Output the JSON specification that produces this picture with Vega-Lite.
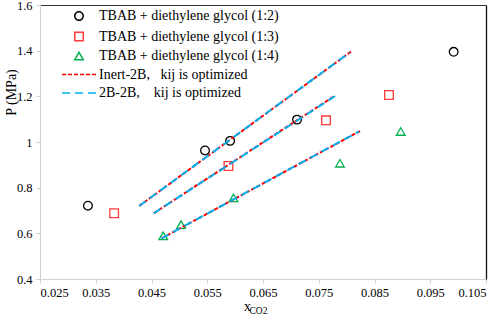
{
  "$schema": "https://vega.github.io/schema/vega-lite/v6.json",
  "width": 446,
  "height": 274,
  "autosize": {"type": "none"},
  "padding": {"left": 40, "top": 5, "right": 12, "bottom": 39},
  "background": "white",
  "config": {
    "font": "Liberation Serif",
    "view": {"stroke": null},
    "axis": {"grid": false, "domainColor": "#d0d0d0", "tickColor": "#d0d0d0", "tickSize": 4, "labelColor": "#000", "labelFontSize": 12.5, "labelFont": "Liberation Serif", "titleFont": "Liberation Serif", "titleFontWeight": "normal", "titleColor": "#000"},
    "legend": {"labelFont": "Liberation Serif", "labelFontSize": 14, "labelColor": "#000", "labelLimit": 0}
  },
  "layer": [
    {
      "data": {"values": [
        {"series": "TBAB + diethylene glycol (1:2)", "x": 0.0336, "p": 0.721},
        {"series": "TBAB + diethylene glycol (1:2)", "x": 0.0546, "p": 0.963},
        {"series": "TBAB + diethylene glycol (1:2)", "x": 0.0591, "p": 1.005},
        {"series": "TBAB + diethylene glycol (1:2)", "x": 0.0711, "p": 1.098},
        {"series": "TBAB + diethylene glycol (1:2)", "x": 0.0992, "p": 1.395},
        {"series": "TBAB + diethylene glycol (1:3)", "x": 0.0383, "p": 0.688},
        {"series": "TBAB + diethylene glycol (1:3)", "x": 0.0588, "p": 0.895},
        {"series": "TBAB + diethylene glycol (1:3)", "x": 0.0763, "p": 1.095},
        {"series": "TBAB + diethylene glycol (1:3)", "x": 0.0876, "p": 1.206},
        {"series": "TBAB + diethylene glycol (1:4)", "x": 0.0471, "p": 0.589},
        {"series": "TBAB + diethylene glycol (1:4)", "x": 0.0503, "p": 0.638},
        {"series": "TBAB + diethylene glycol (1:4)", "x": 0.0597, "p": 0.755},
        {"series": "TBAB + diethylene glycol (1:4)", "x": 0.0788, "p": 0.907},
        {"series": "TBAB + diethylene glycol (1:4)", "x": 0.0897, "p": 1.046}
      ]},
      "mark": {"type": "point", "filled": false, "size": 75, "strokeWidth": 1.3, "opacity": 1},
      "encoding": {
        "x": {"field": "x", "type": "quantitative", "scale": {"domain": [0.025, 0.105], "nice": false, "zero": false},
          "axis": {"values": [0.025, 0.035, 0.045, 0.055, 0.065, 0.075, 0.085, 0.095, 0.105], "format": ".3f", "labelPadding": 3, "title": "x", "titleFontSize": 14, "titleX": 207, "titleY": 31, "titleAlign": "center", "titleBaseline": "alphabetic"}},
        "y": {"field": "p", "type": "quantitative", "scale": {"domain": [0.4, 1.6], "nice": false, "zero": false},
          "axis": {"values": [0.4, 0.6, 0.8, 1.0, 1.2, 1.4, 1.6], "format": "~g", "labelPadding": 4, "title": "P (MPa)", "titleFontSize": 14, "titleX": -29, "titleY": 87, "titleAngle": -90, "titleAlign": "center", "titleBaseline": "middle"}},
        "color": {"field": "series", "type": "nominal", "scale": {"domain": ["TBAB + diethylene glycol (1:2)", "TBAB + diethylene glycol (1:3)", "TBAB + diethylene glycol (1:4)", "Inert-2B,\u00a0\u00a0 kij is optimized", "2B-2B,\u00a0\u00a0\u00a0 kij is optimized"], "range": ["#000000", "#ff3b3b", "#00b050", "#ff0000", "#00b0f0"]},
          "legend": {"title": null, "orient": "none", "legendX": 17, "legendY": 4, "symbolSize": 72, "symbolStrokeWidth": 1.5, "rowPadding": 4.5, "labelOffset": 13, "symbolOffset": 15, "padding": 0}},
        "shape": {"field": "series", "type": "nominal", "scale": {"domain": ["TBAB + diethylene glycol (1:2)", "TBAB + diethylene glycol (1:3)", "TBAB + diethylene glycol (1:4)", "Inert-2B,\u00a0\u00a0 kij is optimized", "2B-2B,\u00a0\u00a0\u00a0 kij is optimized"], "range": ["circle", "square", "triangle-up", "M-4,0H4", "M-4,0H4"]}, "legend": null}
      }
    },
    {
      "data": {"values": [
        {"model": "Inert-2B,\u00a0\u00a0 kij is optimized", "grp": 1, "x": 0.0428, "p": 0.72},
        {"model": "Inert-2B,\u00a0\u00a0 kij is optimized", "grp": 1, "x": 0.0808, "p": 1.396},
        {"model": "Inert-2B,\u00a0\u00a0 kij is optimized", "grp": 2, "x": 0.0454, "p": 0.688},
        {"model": "Inert-2B,\u00a0\u00a0 kij is optimized", "grp": 2, "x": 0.0776, "p": 1.198},
        {"model": "Inert-2B,\u00a0\u00a0 kij is optimized", "grp": 3, "x": 0.0468, "p": 0.578},
        {"model": "Inert-2B,\u00a0\u00a0 kij is optimized", "grp": 3, "x": 0.0824, "p": 1.048},
        {"model": "2B-2B,\u00a0\u00a0\u00a0 kij is optimized", "grp": 1, "x": 0.0428, "p": 0.72},
        {"model": "2B-2B,\u00a0\u00a0\u00a0 kij is optimized", "grp": 1, "x": 0.0806, "p": 1.393},
        {"model": "2B-2B,\u00a0\u00a0\u00a0 kij is optimized", "grp": 2, "x": 0.0454, "p": 0.688},
        {"model": "2B-2B,\u00a0\u00a0\u00a0 kij is optimized", "grp": 2, "x": 0.0783, "p": 1.207},
        {"model": "2B-2B,\u00a0\u00a0\u00a0 kij is optimized", "grp": 3, "x": 0.0468, "p": 0.578},
        {"model": "2B-2B,\u00a0\u00a0\u00a0 kij is optimized", "grp": 3, "x": 0.0822, "p": 1.046}
      ]},
      "mark": {"type": "line", "strokeWidth": 2},
      "encoding": {
        "x": {"field": "x", "type": "quantitative", "scale": {"domain": [0.025, 0.105], "nice": false, "zero": false},
          "axis": {"orient": "bottom", "labels": false, "ticks": false, "domain": false, "title": "CO2", "titleFontSize": 9.5, "titleX": 218, "titleY": 34, "titleAlign": "center", "titleBaseline": "alphabetic"}},
        "y": {"field": "p", "type": "quantitative", "scale": {"domain": [0.4, 1.6], "nice": false, "zero": false}, "axis": null},
        "detail": {"field": "grp", "type": "nominal"},
        "color": {"field": "model", "type": "nominal", "scale": {"domain": ["TBAB + diethylene glycol (1:2)", "TBAB + diethylene glycol (1:3)", "TBAB + diethylene glycol (1:4)", "Inert-2B,\u00a0\u00a0 kij is optimized", "2B-2B,\u00a0\u00a0\u00a0 kij is optimized"]}},
        "strokeDash": {"field": "model", "type": "nominal", "scale": {"domain": ["TBAB + diethylene glycol (1:2)", "TBAB + diethylene glycol (1:3)", "TBAB + diethylene glycol (1:4)", "Inert-2B,\u00a0\u00a0 kij is optimized", "2B-2B,\u00a0\u00a0\u00a0 kij is optimized"], "range": [[1, 0], [1, 0], [1, 0], [4, 2], [8, 5]]}, "legend": null},
        "order": {"field": "model", "type": "nominal"}
      }
    },
    {
      "data": {"values": [
        {"x": 0.025, "p": 0.4},
        {"x": 0.105, "p": 1.6}
      ]},
      "mark": {"type": "point", "opacity": 0},
      "encoding": {
        "x": {"field": "x", "type": "quantitative", "scale": {"domain": [0.025, 0.105], "nice": false, "zero": false},
          "axis": {"orient": "top", "labels": false, "ticks": false, "title": null, "domainColor": "#333333", "domainWidth": 1.2}},
        "y": {"field": "p", "type": "quantitative", "scale": {"domain": [0.4, 1.6], "nice": false, "zero": false},
          "axis": {"orient": "right", "labels": false, "ticks": false, "title": null, "domainColor": "#111111", "domainWidth": 1.3}}
      }
    }
  ],
  "resolve": {"scale": {"x": "independent", "y": "independent"}, "axis": {"x": "independent", "y": "independent"}}
}
